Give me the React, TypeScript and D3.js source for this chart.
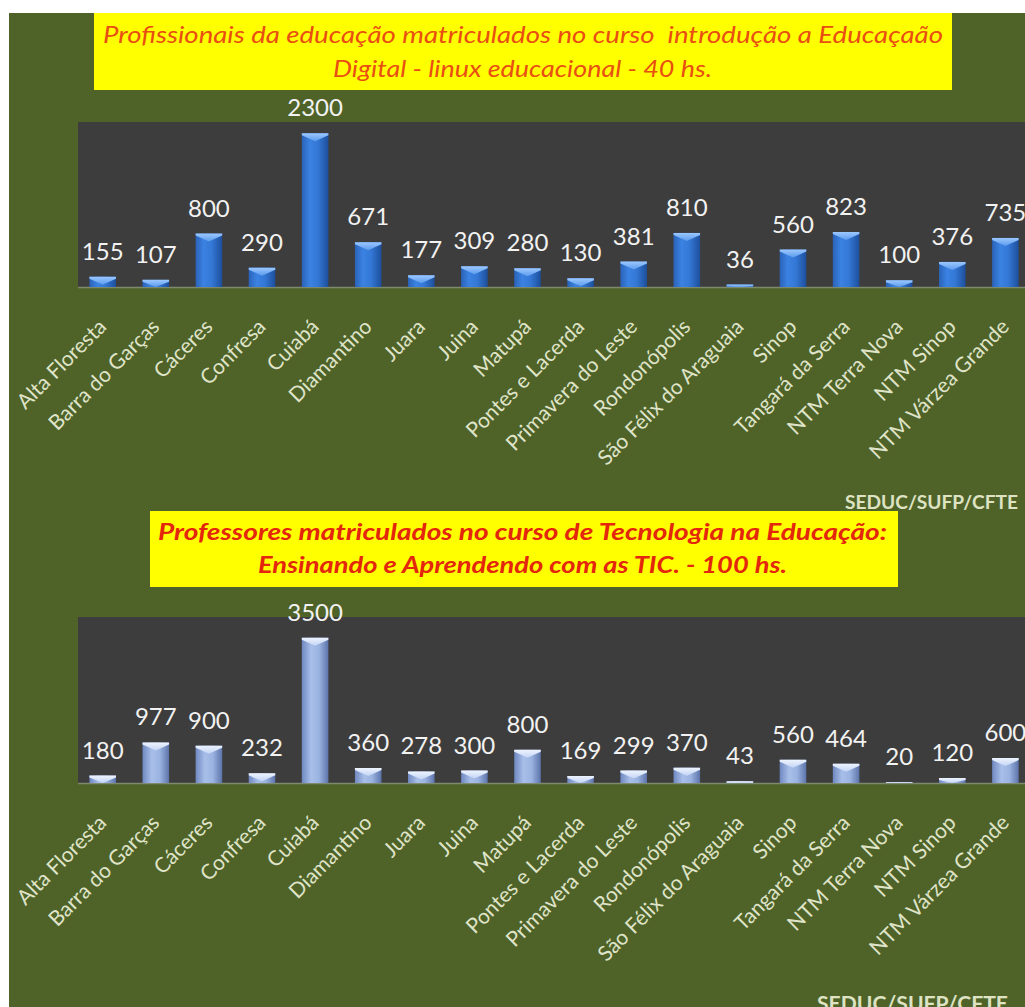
import React from "react";
import * as d3 from "d3";

const categories = [
  "Alta Floresta", "Barra do Garças", "Cáceres", "Confresa", "Cuiabá", "Diamantino",
  "Juara", "Juina", "Matupá", "Pontes e Lacerda", "Primavera do Leste", "Rondonópolis",
  "São Félix do Araguaia", "Sinop", "Tangará da Serra", "NTM Terra Nova", "NTM Sinop",
  "NTM Várzea Grande",
];
const linuxValues = [155, 107, 800, 290, 2300, 671, 177, 309, 280, 130, 381, 810, 36, 560, 823, 100, 376, 735];
const ticValues = [180, 977, 900, 232, 3500, 360, 278, 300, 800, 169, 299, 370, 43, 560, 464, 20, 120, 600];

const title1Lines = ["Profissionais da educação matriculados no curso  introdução a Educaçaão", "Digital - linux educacional - 40 hs."];
const title2Lines = ["Professores matriculados no curso de Tecnologia na Educação:", "Ensinando e Aprendendo com as TIC. - 100 hs."];
const sourceText = "SEDUC/SUFP/CFTE";

const W = 1025;
const H = 1007;
const FONT = "Lato, 'Open Sans', sans-serif";

type PanelProps = {
  values: number[];
  baseY: number;
  plotTop: number;
  scaleTop: number;
  max: number;
  gradId: string;
  capId: string;
};

function Panel({ values, baseY, plotTop, scaleTop, max, gradId, capId }: PanelProps) {
  const x = d3.scalePoint<string>().domain(categories).range([102.7, 1005.4]);
  const y = d3.scaleLinear().domain([0, max]).range([baseY, scaleTop]);
  const bw = x.step() * 0.5;
  return (
    <g>
      <rect x={78} y={plotTop} width={W - 78} height={baseY - plotTop} fill="#3d3d3d" />
      <line x1={78} x2={W} y1={baseY + 0.5} y2={baseY + 0.5} stroke="#7d8a6c" strokeWidth={1.5} />
      {values.map((v, i) => {
        const cx = x(categories[i]) as number;
        const top = y(v);
        const h = baseY - top;
        const x0 = cx - bw / 2;
        const x1 = cx + bw / 2;
        const capH = Math.min(8, h);
        const edge = Math.min(2, h);
        return (
          <g key={i}>
            <rect x={x0} y={top} width={bw} height={h} fill={`url(#${gradId})`} />
            <polygon
              points={`${x0},${top} ${x1},${top} ${x1},${top + edge} ${cx},${top + capH} ${x0},${top + edge}`}
              fill={`url(#${capId})`}
            />
            <text
              x={cx}
              y={top - 17}
              textAnchor="middle"
              fontFamily={FONT}
              fontSize={24}
              fill="#f2f2f2"
            >
              {v}
            </text>
            <text
              transform={`translate(${cx + 5},${baseY + 41}) rotate(-45)`}
              textAnchor="end"
              fontFamily={FONT}
              fontSize={21}
              fill="#dfe4c9"
            >
              {categories[i]}
            </text>
          </g>
        );
      })}
    </g>
  );
}

export default function App() {
  return (
    <svg
      width={W}
      height={H}
      style={{ position: "absolute", left: 0, top: 0, display: "block" }}
    >
      <defs>
        <linearGradient id="gBlue" x1="0" x2="1" y1="0" y2="0">
          <stop offset="0" stopColor="#2a63b8" />
          <stop offset="0.3" stopColor="#3b82e2" />
          <stop offset="0.6" stopColor="#3478d6" />
          <stop offset="1" stopColor="#1d4f9c" />
        </linearGradient>
        <linearGradient id="cBlue" x1="0" x2="0" y1="0" y2="1">
          <stop offset="0" stopColor="#9cc8ff" />
          <stop offset="1" stopColor="#5b9bec" />
        </linearGradient>
        <linearGradient id="gSteel" x1="0" x2="1" y1="0" y2="0">
          <stop offset="0" stopColor="#6f88c0" />
          <stop offset="0.35" stopColor="#a8bfe9" />
          <stop offset="0.65" stopColor="#9bb3e0" />
          <stop offset="1" stopColor="#5c74aa" />
        </linearGradient>
        <linearGradient id="cSteel" x1="0" x2="0" y1="0" y2="1">
          <stop offset="0" stopColor="#eef4ff" />
          <stop offset="1" stopColor="#c3d4f4" />
        </linearGradient>
      </defs>
      <rect x={0} y={0} width={W} height={H} fill="#ffffff" />
      <rect x={9} y={13} width={W - 9} height={H - 13} fill="#4f6228" />

      {/* top title */}
      <rect x={94} y={13} width={858} height={77} fill="#ffff00" />
      <text x={103} y={43} fontFamily={FONT} fontStyle="italic" fontSize={23} fill="#e94e12"
        textLength={840} lengthAdjust="spacingAndGlyphs" style={{ whiteSpace: "pre" }}>
        {title1Lines[0]}
      </text>
      <text x={333} y={77} fontFamily={FONT} fontStyle="italic" fontSize={23} fill="#e94e12"
        textLength={379} lengthAdjust="spacingAndGlyphs">
        {title1Lines[1]}
      </text>

      <Panel values={linuxValues} baseY={287} plotTop={122} scaleTop={120} max={2500} gradId="gBlue" capId="cBlue" />

      <text x={845} y={509} fontFamily={FONT} fontWeight={700} fontSize={19} fill="#dde3c3"
        textLength={173} lengthAdjust="spacingAndGlyphs">
        {sourceText}
      </text>

      {/* bottom title */}
      <rect x={150} y={511} width={748} height={76} fill="#ffff00" />
      <text x={158} y={540} fontFamily={FONT} fontStyle="italic" fontWeight={700} fontSize={23} fill="#e3260c"
        textLength={729} lengthAdjust="spacingAndGlyphs">
        {title2Lines[0]}
      </text>
      <text x={258} y={573} fontFamily={FONT} fontStyle="italic" fontWeight={700} fontSize={23} fill="#e3260c"
        textLength={529} lengthAdjust="spacingAndGlyphs">
        {title2Lines[1]}
      </text>

      <Panel values={ticValues} baseY={783} plotTop={617} scaleTop={617} max={4000} gradId="gSteel" capId="cSteel" />

      <text x={817} y={1011} fontFamily={FONT} fontWeight={700} fontSize={21} fill="#dde3c3"
        textLength={191} lengthAdjust="spacingAndGlyphs">
        {sourceText}
      </text>
    </svg>
  );
}
